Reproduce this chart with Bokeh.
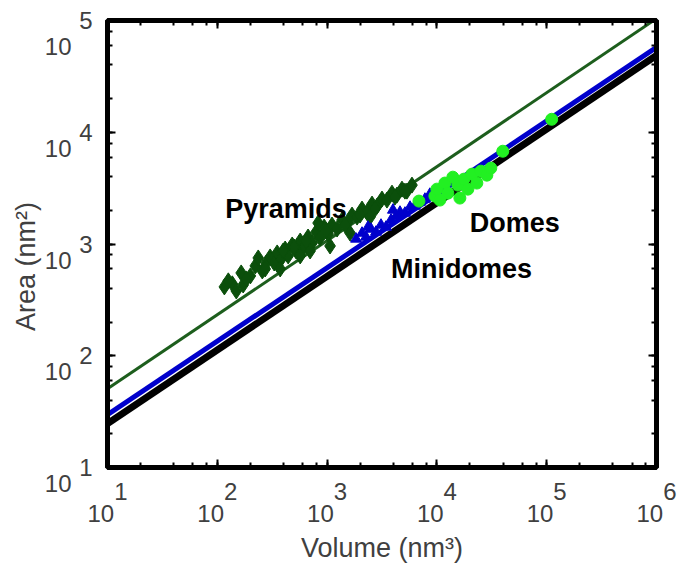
from bokeh.plotting import figure
from bokeh.models import (Label, LogAxis, Range1d, FixedTicker, LogTicker,
                          CustomJSTickFormatter)
from bokeh.embed import file_html
from bokeh.resources import INLINE

# ---------------- data ----------------
# fitted A ~ V^(2/3) bands (endpoints)
line_volume = [10, 1e6]
pyramid_fit_area = [50.7, 104000]
minidome_fit_area = [29.7, 57400]
dome_fit_area = [24.7, 48700]

pyr_volume = [116, 137, 149, 165, 172, 200, 222, 236, 257, 279, 303, 330, 351, 382,
              415, 442, 481, 522, 569, 618, 671, 731, 794, 863, 940, 1021, 1109, 1233,
              1368, 1520, 1687, 1875, 2080, 2311, 2566, 2851, 3162, 3509, 3899, 4325,
              4808, 5333, 5929, 828, 569, 1064, 1618, 374, 700, 2460,
              126, 184, 273, 398, 501, 644, 979, 1458, 1995, 2730, 4150, 5117]
pyr_area = [413, 440, 380, 551, 430, 518, 637, 750, 574, 676, 766, 676, 832, 735,
            902, 782, 980, 866, 1064, 940, 1155, 1021, 1280, 1132, 1419, 1228, 1478, 1361,
            1637, 1540, 1815, 1742, 2053, 1931, 2276, 2183, 2523, 2472, 2851, 2738,
            3097, 2972, 3365, 1540, 782, 960, 1253, 598, 866, 1742,
            468, 487, 598, 866, 940, 1064, 1306, 1478, 1815, 2053, 2630, 2972]

mini_volume = [1836, 2080, 2263, 2512, 2789, 3097, 3437, 3819, 4240, 4613, 5117,
               5689, 6310, 7000, 7780, 8630, 2360, 3981]
mini_area = [1109, 1253, 1155, 1361, 1280, 1478, 1419, 1637, 1778, 1931, 1893,
             2138, 2183, 2371, 2523, 2793, 1419, 2014]

dome_volume = [6860, 9590, 10000, 11830, 12590, 13970, 15520, 16190, 17590, 19140,
               20800, 23110, 25120, 28510, 30970, 39810, 111000, 10650]
dome_area = [2421, 2685, 3097, 3509, 2851, 3963, 3365, 2576, 3802, 3097,
             4217, 3509, 4487, 4130, 4775, 6761, 13060, 2472]

x_ticks = [10, 100, 1000, 10000, 100000, 1000000]
y_ticks = [10, 100, 1000, 10000, 100000]

FONT = "Liberation Sans"
GRAY = "#404040"

p = figure(width=680, height=565, x_axis_type="log", y_axis_type="log",
           x_range=Range1d(10, 1e6), y_range=Range1d(10, 1e5),
           output_backend="svg", toolbar_location=None,
           min_border_left=107, min_border_right=24, min_border_top=20, min_border_bottom=98)
p.background_fill_color = "white"
p.border_fill_color = "white"
p.grid.visible = False
p.outline_line_color = "black"
p.outline_line_width = 5

xa = p.below[0]
ya = p.left[0]

top_ax = LogAxis()
right_ax = LogAxis()
p.add_layout(right_ax, "right")
p.add_layout(top_ax, "above")

def style_ticks(ax):
    ax.axis_line_color = "black"
    ax.axis_line_width = 5
    ax.major_tick_in = 8
    ax.major_tick_out = 0
    ax.minor_tick_in = 5
    ax.minor_tick_out = 0
    ax.major_tick_line_width = 2
    ax.minor_tick_line_width = 2
    ax.major_tick_line_color = "black"
    ax.minor_tick_line_color = "black"

for ax in (top_ax, right_ax):
    style_ticks(ax)
    ax.major_label_text_font_size = "6px"
    ax.major_label_text_color = None
    ax.major_label_standoff = 0

def style_labels(ax, size="24px"):
    ax.major_label_text_font = FONT
    ax.major_label_text_font_size = size
    ax.major_label_text_color = GRAY

# bottom: main axis carries ticks + exponents
style_ticks(xa)
style_labels(xa)
xa.ticker = LogTicker()
xa.formatter = CustomJSTickFormatter(
    code="return '\\u00a0\\u00a0\\u00a0\\u00a0' + Math.round(Math.log10(tick)).toString();")
xa.major_label_standoff = 10

# bottom: the "10" base of each label + axis title
x_ten = LogAxis(ticker=FixedTicker(ticks=x_ticks),
                formatter=CustomJSTickFormatter(code="return '10\\u00a0\\u00a0';"),
                axis_line_color=None, major_tick_line_color=None, minor_tick_line_color=None,
                major_label_standoff=-14,
                axis_label="Volume (nm³)", axis_label_text_font=FONT,
                axis_label_text_font_size="27px", axis_label_text_color=GRAY,
                axis_label_text_font_style="normal", axis_label_standoff=3)
style_labels(x_ten)
p.add_layout(x_ten, "below")

# left: main axis carries ticks + exponents
style_ticks(ya)
style_labels(ya)
ya.ticker = LogTicker()
ya.formatter = CustomJSTickFormatter(code="return Math.round(Math.log10(tick)).toString();")
ya.major_label_standoff = 15

# left: "10" base of each label, pushed half a line below its tick by an empty first line
y_ten = LogAxis(ticker=FixedTicker(ticks=y_ticks),
                formatter=CustomJSTickFormatter(code="return '\\n10';"),
                axis_line_color=None, major_tick_line_color=None, minor_tick_line_color=None,
                major_label_standoff=-1,
                axis_label="Area (nm²)" + "\u00a0" * 6, axis_label_text_font=FONT,
                axis_label_text_font_size="27px", axis_label_text_color=GRAY,
                axis_label_text_font_style="normal", axis_label_standoff=1)
style_labels(y_ten)
p.add_layout(y_ten, "left")

# fitted bands
p.line(line_volume, dome_fit_area, line_color="black", line_width=7)
p.line(line_volume, minidome_fit_area, line_color="#0000cc", line_width=5)
p.line(line_volume, pyramid_fit_area, line_color="#1d5e1d", line_width=3)

# scatter clouds
p.scatter(pyr_volume, pyr_area, marker="diamond", size=16,
          fill_color="#0b4f0b", line_color="#0b4f0b")
p.scatter(mini_volume, mini_area, marker="triangle", size=11,
          fill_color="#0000cc", line_color="#0000cc")
p.scatter(dome_volume, dome_area, marker="circle", size=12,
          fill_color="#22f022", line_color="#22f022")

# annotations
for txt, vx, ay in [("Pyramids", 118, 2053), ("Minidomes", 3819, 598), ("Domes", 19950, 1540)]:
    p.add_layout(Label(x=vx, y=ay, text=txt, text_font=FONT, text_font_size="27px",
                       text_font_style="bold", text_color="black",
                       text_align="left", text_baseline="alphabetic"))

open("out.html", "w").write(file_html(p, INLINE))
